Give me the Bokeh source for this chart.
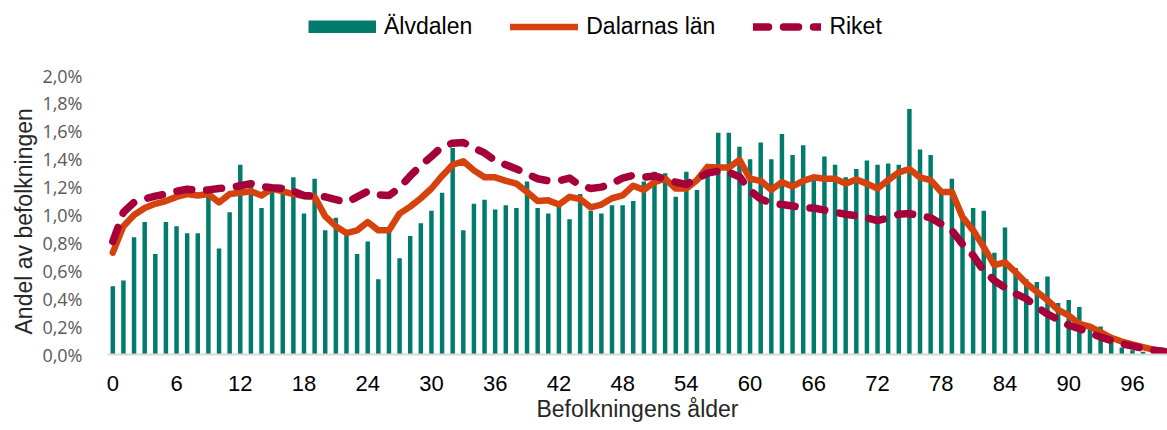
from bokeh.plotting import figure
from bokeh.models import (ColumnDataSource, Range1d, FixedTicker, CustomJSTickFormatter,
                          Legend, LegendItem, Title)
from bokeh.embed import file_html
from bokeh.resources import INLINE

ages = list(range(100))
tick_labels = [0, 6, 12, 18, 24, 30, 36, 42, 48, 54, 60, 66, 72, 78, 84, 90, 96]

alvdalen = [0.49, 0.53, 0.84, 0.95, 0.72, 0.95, 0.92, 0.87, 0.87, 1.15,
            0.76, 1.02, 1.36, 1.20, 1.05, 1.18, 1.21, 1.27, 1.01, 1.26,
            0.89, 0.98, 0.88, 0.72, 0.81, 0.54, 0.88, 0.69, 0.85, 0.94,
            1.03, 1.16, 1.48, 0.89, 1.08, 1.11, 1.04, 1.07, 1.05, 1.24,
            1.05, 1.01, 1.06, 0.97, 1.15, 1.03, 1.01, 1.07, 1.07, 1.10,
            1.24, 1.31, 1.30, 1.13, 1.31, 1.18, 1.33, 1.59, 1.59, 1.49,
            1.40, 1.52, 1.40, 1.58, 1.43, 1.50, 1.26, 1.42, 1.36, 1.27,
            1.33, 1.39, 1.36, 1.37, 1.36, 1.76, 1.47, 1.43, 1.17, 1.26,
            1.00, 1.05, 1.03, 0.73, 0.91, 0.62, 0.54, 0.52, 0.56, 0.37,
            0.39, 0.34, 0.21, 0.20, 0.12, 0.05, 0.03, 0.02, 0.01, 0.01]

dalarna = [0.73, 0.92, 1.00, 1.05, 1.08, 1.10, 1.13, 1.15, 1.14, 1.15,
           1.09, 1.15, 1.16, 1.17, 1.14, 1.19, 1.17, 1.15, 1.135, 1.13,
           0.99, 0.92, 0.87, 0.89, 0.95, 0.89, 0.89, 1.01, 1.06, 1.12,
           1.19, 1.28, 1.36, 1.385, 1.32, 1.27, 1.27, 1.245, 1.225, 1.165,
           1.10, 1.105, 1.075, 1.13, 1.115, 1.055, 1.075, 1.12, 1.14, 1.21,
           1.18, 1.235, 1.26, 1.19, 1.19, 1.25, 1.345, 1.34, 1.34, 1.395,
           1.26, 1.245, 1.18, 1.235, 1.205, 1.245, 1.27, 1.26, 1.26, 1.225,
           1.255, 1.225, 1.19, 1.25, 1.305, 1.33, 1.27, 1.25, 1.165, 1.165,
           0.985, 0.89, 0.77, 0.64, 0.66, 0.59, 0.51, 0.45, 0.39, 0.32,
           0.28, 0.22, 0.20, 0.16, 0.12, 0.093, 0.072, 0.053, 0.034, 0.024]

riket = [0.81, 1.02, 1.09, 1.115, 1.135, 1.15, 1.17, 1.185, 1.175, 1.18,
         1.19, 1.195, 1.21, 1.225, 1.205, 1.195, 1.19, 1.17, 1.14, 1.135,
         1.13, 1.11, 1.09, 1.13, 1.17, 1.145, 1.14, 1.195, 1.28, 1.355,
         1.42, 1.49, 1.515, 1.52, 1.48, 1.445, 1.39, 1.36, 1.33, 1.295,
         1.26, 1.245, 1.245, 1.265, 1.21, 1.19, 1.20, 1.225, 1.265, 1.285,
         1.27, 1.28, 1.26, 1.235, 1.22, 1.26, 1.30, 1.315, 1.305, 1.275,
         1.175, 1.115, 1.085, 1.075, 1.065, 1.05, 1.05, 1.035, 1.02, 1.005,
         0.995, 0.98, 0.96, 0.98, 1.005, 1.01, 0.995, 0.98, 0.935, 0.89,
         0.79, 0.71, 0.60, 0.53, 0.48, 0.435, 0.40, 0.34, 0.29, 0.25,
         0.21, 0.185, 0.155, 0.125, 0.10, 0.077, 0.06, 0.045, 0.03, 0.022]

src = ColumnDataSource(dict(age=ages, alv=alvdalen, dal=dalarna, rik=riket))

FONT = "Liberation Sans"
TEAL = "#007B6C"

# frame spans from top of figure to baseline; 2,0% sits 75px from the top
p = figure(width=1167, height=430, output_backend="svg", toolbar_location=None,
           x_range=Range1d(-0.5, 99.3), y_range=Range1d(0, 2.0 * 354 / 279),
           min_border_left=107, min_border_right=0, min_border_top=0,
           min_border_bottom=76)
p.outline_line_color = None
p.background_fill_color = "white"
p.border_fill_color = "white"
p.xgrid.visible = False
p.ygrid.visible = False

bars = p.vbar(x="age", top="alv", width=0.42, source=src,
              fill_color=TEAL, line_color=None)
l1 = p.line(x="age", y="dal", source=src, line_color="#D5420E", line_width=6.5,
            line_join="round", line_cap="round")
l2 = p.line(x="age", y="rik", source=src, line_color="#A6003A", line_width=7.5,
            line_dash="15 15", line_join="round", line_cap="round")
# legend swatch for the bars (full-size rectangle); its data lies outside the view
swatch = p.line(x=[-20, -19], y=[0, 0], line_color=TEAL, line_width=13,
                line_cap="butt")

# x axis
p.xaxis.ticker = FixedTicker(ticks=tick_labels)
p.xaxis.axis_label = "Befolkningens ålder"
p.xaxis.axis_label_text_font = FONT
p.xaxis.axis_label_text_font_size = "23px"
p.xaxis.axis_label_text_font_style = "normal"
p.xaxis.axis_label_text_color = "#262626"
p.xaxis.axis_label_standoff = 2
p.xaxis.major_label_text_font = FONT
p.xaxis.major_label_text_font_size = "22px"
p.xaxis.major_label_text_color = "#000000"
p.xaxis.major_label_standoff = 15
p.xaxis.major_tick_line_color = None
p.xaxis.minor_tick_line_color = None
p.xaxis.axis_line_color = "#D9D9D9"
p.xaxis.axis_line_width = 2

# y axis
p.yaxis.ticker = FixedTicker(ticks=[0, 0.2, 0.4, 0.6, 0.8, 1.0, 1.2, 1.4, 1.6, 1.8, 2.0])
p.yaxis.formatter = CustomJSTickFormatter(
    code="return tick.toFixed(1).replace('.', ',') + '%';")
p.yaxis.major_label_text_font = "Open Sans"
p.yaxis.major_label_text_font_size = "18px"
p.yaxis.major_label_text_color = "#595959"
p.yaxis.major_label_standoff = 19
p.yaxis.major_tick_line_color = None
p.yaxis.minor_tick_line_color = None
p.yaxis.axis_line_color = None

# y axis title, placed along the 0-2,0% span
ytitle = Title(text="Andel av befolkningen", align="left", offset=20,
               text_font=FONT, text_font_size="23px", text_font_style="normal",
               text_color="#262626", standoff=6)
p.add_layout(ytitle, "left")

legend = Legend(items=[LegendItem(label="Älvdalen", renderers=[swatch]),
                       LegendItem(label="Dalarnas län", renderers=[l1]),
                       LegendItem(label="Riket", renderers=[l2])],
                orientation="horizontal", location=(201, 314),
                glyph_width=68, glyph_height=13, label_standoff=8, spacing=38,
                padding=0, margin=0, border_line_color=None,
                background_fill_alpha=0,
                label_text_font=FONT, label_text_font_size="23px",
                label_text_color="#000000")
p.add_layout(legend, "center")

open("out.html", "w").write(file_html(p, INLINE))
